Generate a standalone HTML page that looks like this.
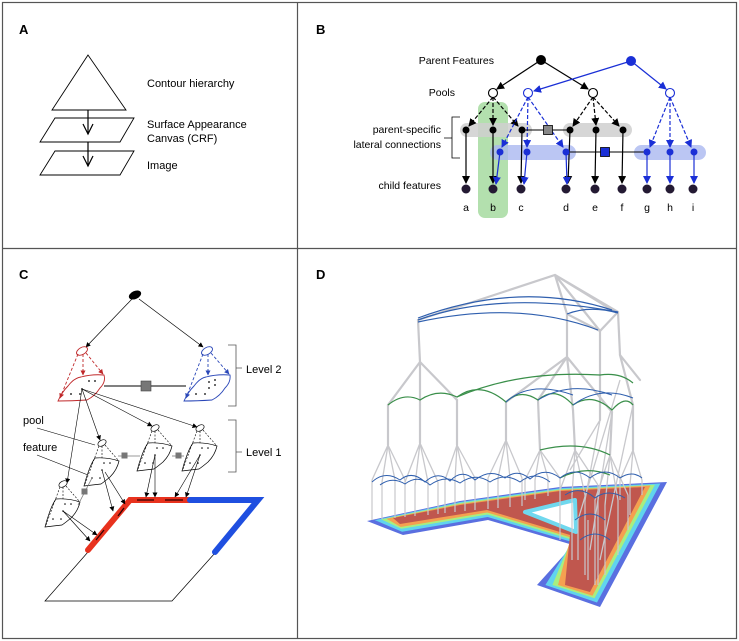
<!DOCTYPE html>
<html><head><meta charset="utf-8"><style>
html,body{margin:0;padding:0;background:#fff}
svg{display:block;font-family:"Liberation Sans",Arial,sans-serif}
</style></head><body>
<svg width="739" height="641" viewBox="0 0 739 641" xmlns="http://www.w3.org/2000/svg">
<defs>
<marker id="ak" markerWidth="8" markerHeight="8" refX="7" refY="4" orient="auto" markerUnits="userSpaceOnUse"><path d="M0,0 L8,4 L0,8 Z" fill="#000"/></marker>
<marker id="ab" markerWidth="8" markerHeight="8" refX="7" refY="4" orient="auto" markerUnits="userSpaceOnUse"><path d="M0,0 L8,4 L0,8 Z" fill="#1a2fd6"/></marker>
<marker id="as" markerWidth="5" markerHeight="5" refX="4.5" refY="2.5" orient="auto" markerUnits="userSpaceOnUse"><path d="M0,0 L5,2.5 L0,5 Z" fill="#000"/></marker>
<marker id="ar" markerWidth="5" markerHeight="5" refX="4.5" refY="2.5" orient="auto" markerUnits="userSpaceOnUse"><path d="M0,0 L5,2.5 L0,5 Z" fill="#c0282a"/></marker>
<marker id="abl" markerWidth="5" markerHeight="5" refX="4.5" refY="2.5" orient="auto" markerUnits="userSpaceOnUse"><path d="M0,0 L5,2.5 L0,5 Z" fill="#2a47b8"/></marker>
</defs>
<rect x="2.5" y="2.5" width="734" height="636" fill="none" stroke="#555" stroke-width="1.2"/>
<line x1="297.5" y1="2" x2="297.5" y2="639" stroke="#555" stroke-width="1.2"/>
<line x1="2" y1="248.5" x2="737" y2="248.5" stroke="#555" stroke-width="1.2"/>

<!-- Panel A -->
<g font-size="11">
<text x="19" y="34" font-weight="bold" font-size="13">A</text>
<path d="M88,55 L52,110 L126,110 Z" fill="#fff" stroke="#000" stroke-width="0.9"/>
<path d="M55,118 L134,118 L120,142 L40,142 Z" fill="#fff" stroke="#000" stroke-width="0.9"/>
<path d="M55,151 L134,151 L120,175 L40,175 Z" fill="#fff" stroke="#000" stroke-width="0.9"/>
<line x1="88" y1="110" x2="88" y2="134" stroke="#000" stroke-width="1.2"/>
<path d="M83,124 L88,134 L93,124" fill="none" stroke="#000" stroke-width="1.2"/>
<line x1="88" y1="142" x2="88" y2="166" stroke="#000" stroke-width="1.2"/>
<path d="M83,156 L88,166 L93,156" fill="none" stroke="#000" stroke-width="1.2"/>
<text x="147" y="87">Contour hierarchy</text>
<text x="147" y="128">Surface Appearance</text>
<text x="147" y="142">Canvas (CRF)</text>
<text x="147" y="169">Image</text>
</g>

<!-- Panel B -->
<g font-size="10.5">
<text x="316" y="34" font-weight="bold" font-size="13">B</text>
<rect x="478" y="102" width="30" height="116" rx="7" fill="#a6dba0" opacity="0.85"/>
<rect x="460" y="123" width="72" height="14" rx="7" fill="#cfcfcf" opacity="0.85"/>
<rect x="563" y="123" width="69" height="14" rx="7" fill="#cfcfcf" opacity="0.85"/>
<rect x="490" y="145" width="86" height="15" rx="7.5" fill="#aab8f0" opacity="0.8"/>
<rect x="634" y="145" width="72" height="15" rx="7.5" fill="#aab8f0" opacity="0.8"/>
<text x="494" y="64" text-anchor="end">Parent Features</text>
<text x="455" y="96" text-anchor="end">Pools</text>
<text x="441" y="133" text-anchor="end">parent-specific</text>
<text x="441" y="148" text-anchor="end">lateral connections</text>
<text x="441" y="189" text-anchor="end">child features</text>
<path d="M460,117 L452,117 L452,158 L460,158 M452,138 L444,138" fill="none" stroke="#000" stroke-width="0.8"/>
<line x1="541" y1="60" x2="497" y2="89" stroke="#000" stroke-width="1.2" marker-end="url(#ak)"/>
<line x1="541" y1="60" x2="588" y2="89" stroke="#000" stroke-width="1.2" marker-end="url(#ak)"/>
<line x1="631" y1="61" x2="534" y2="91" stroke="#1a2fd6" stroke-width="1.2" marker-end="url(#ab)"/>
<line x1="631" y1="61" x2="666" y2="89" stroke="#1a2fd6" stroke-width="1.2" marker-end="url(#ab)"/>
<g stroke="#000" stroke-width="1.2" stroke-dasharray="4,2" fill="none">
<line x1="493" y1="97" x2="469" y2="126" marker-end="url(#ak)"/>
<line x1="493" y1="97" x2="493" y2="125" marker-end="url(#ak)"/>
<line x1="493" y1="97" x2="518" y2="126" marker-end="url(#ak)"/>
<line x1="593" y1="97" x2="573" y2="126" marker-end="url(#ak)"/>
<line x1="593" y1="97" x2="596" y2="125" marker-end="url(#ak)"/>
<line x1="593" y1="97" x2="619" y2="126" marker-end="url(#ak)"/>
</g>
<g stroke="#1a2fd6" stroke-width="1.2" stroke-dasharray="4,2" fill="none">
<line x1="528" y1="97" x2="502" y2="147" marker-end="url(#ab)"/>
<line x1="528" y1="97" x2="527" y2="147" marker-end="url(#ab)"/>
<line x1="528" y1="97" x2="563" y2="147" marker-end="url(#ab)"/>
<line x1="670" y1="97" x2="650" y2="147" marker-end="url(#ab)"/>
<line x1="670" y1="97" x2="670" y2="147" marker-end="url(#ab)"/>
<line x1="670" y1="97" x2="691" y2="147" marker-end="url(#ab)"/>
</g>
<line x1="522" y1="130" x2="570" y2="130" stroke="#000" stroke-width="1"/>
<line x1="566" y1="152" x2="647" y2="152" stroke="#000" stroke-width="1"/>
<rect x="543.5" y="125.5" width="9" height="9" fill="#888" stroke="#000" stroke-width="0.8"/>
<rect x="600.5" y="147.5" width="9" height="9" fill="#1a2fd6" stroke="#000" stroke-width="0.8"/>
<g stroke="#000" stroke-width="1.2">
<line x1="466" y1="130" x2="466" y2="183" marker-end="url(#ak)"/>
<line x1="493" y1="130" x2="493" y2="183" marker-end="url(#ak)"/>
<line x1="522" y1="130" x2="521" y2="183" marker-end="url(#ak)"/>
<line x1="570" y1="130" x2="568" y2="183" marker-end="url(#ak)"/>
<line x1="596" y1="130" x2="595" y2="183" marker-end="url(#ak)"/>
<line x1="623" y1="130" x2="622" y2="183" marker-end="url(#ak)"/>
</g>
<g stroke="#1a2fd6" stroke-width="1.2">
<line x1="500" y1="152" x2="496" y2="184" marker-end="url(#ab)"/>
<line x1="527" y1="152" x2="524" y2="184" marker-end="url(#ab)"/>
<line x1="566" y1="152" x2="567" y2="184" marker-end="url(#ab)"/>
<line x1="647" y1="152" x2="647" y2="183" marker-end="url(#ab)"/>
<line x1="670" y1="152" x2="670" y2="183" marker-end="url(#ab)"/>
<line x1="694" y1="152" x2="694" y2="183" marker-end="url(#ab)"/>
</g>
<circle cx="541" cy="60" r="5" fill="#000"/>
<circle cx="631" cy="61" r="5" fill="#1a2fd6"/>
<g fill="#fff" stroke-width="1.1">
<circle cx="493" cy="93" r="4.5" stroke="#000"/>
<circle cx="593" cy="93" r="4.5" stroke="#000"/>
<circle cx="528" cy="93" r="4.5" stroke="#1a2fd6"/>
<circle cx="670" cy="93" r="4.5" stroke="#1a2fd6"/>
</g>
<g fill="#000">
<circle cx="466" cy="130" r="3.5"/><circle cx="493" cy="130" r="3.5"/><circle cx="522" cy="130" r="3.5"/>
<circle cx="570" cy="130" r="3.5"/><circle cx="596" cy="130" r="3.5"/><circle cx="623" cy="130" r="3.5"/>
</g>
<g fill="#1a2fd6">
<circle cx="500" cy="152" r="3.5"/><circle cx="527" cy="152" r="3.5"/><circle cx="566" cy="152" r="3.5"/>
<circle cx="647" cy="152" r="3.5"/><circle cx="670" cy="152" r="3.5"/><circle cx="694" cy="152" r="3.5"/>
</g>
<g fill="#241a33">
<circle cx="466" cy="189" r="4.5"/><circle cx="493" cy="189" r="4.5"/><circle cx="521" cy="189" r="4.5"/>
<circle cx="566" cy="189" r="4.5"/><circle cx="595" cy="189" r="4.5"/><circle cx="622" cy="189" r="4.5"/>
<circle cx="647" cy="189" r="4.5"/><circle cx="670" cy="189" r="4.5"/><circle cx="693" cy="189" r="4.5"/>
</g>
<g text-anchor="middle">
<text x="466" y="211">a</text><text x="493" y="211">b</text><text x="521" y="211">c</text>
<text x="566" y="211">d</text><text x="595" y="211">e</text><text x="622" y="211">f</text>
<text x="647" y="211">g</text><text x="670" y="211">h</text><text x="693" y="211">i</text>
</g>
</g>

<!-- Panel C -->
<g font-size="11">
<text x="19" y="279" font-weight="bold" font-size="13">C</text>
<ellipse cx="135" cy="295" rx="6.5" ry="4" transform="rotate(-25 135 295)" fill="#000"/>
<line x1="132" y1="299" x2="86" y2="347" stroke="#000" stroke-width="0.7" marker-end="url(#as)"/>
<line x1="139" y1="299" x2="203" y2="347" stroke="#000" stroke-width="0.7" marker-end="url(#as)"/>
<path d="M228,345 L236,345 L236,406 L228,406 M236,368 L242,368" fill="none" stroke="#555" stroke-width="0.8"/>
<text x="246" y="373">Level 2</text>
<path d="M228,420 L236,420 L236,472 L228,472 M236,452 L242,452" fill="none" stroke="#555" stroke-width="0.8"/>
<text x="246" y="456">Level 1</text>
<text x="23" y="424">pool</text>
<text x="23" y="451">feature</text>
<line x1="37" y1="428" x2="95" y2="445" stroke="#000" stroke-width="0.6"/>
<line x1="37" y1="455" x2="88" y2="475" stroke="#000" stroke-width="0.6"/>
<g stroke="#c0282a" fill="none" stroke-width="0.9">
<ellipse cx="82" cy="351" rx="6" ry="3.5" transform="rotate(-30 82 351)" fill="#fff"/>
<path d="M81,377 Q92,374 104,375 Q106,382 100,388 Q95,396 87,400 Q72,401 58,401 Q62,392 68,386 Q74,378 81,377 Z" fill="#fff"/>
<g stroke-dasharray="3,2">
<line x1="78" y1="354" x2="60" y2="398" marker-end="url(#ar)"/>
<line x1="83" y1="354" x2="83" y2="375" marker-end="url(#ar)"/>
<line x1="86" y1="353" x2="103" y2="374" marker-end="url(#ar)"/>
</g>
</g>
<g fill="#000"><circle cx="89" cy="381" r="0.9"/><circle cx="95" cy="381" r="0.9"/><circle cx="82" cy="389" r="0.9"/><circle cx="71" cy="394" r="0.9"/><circle cx="80" cy="394" r="0.9"/></g>
<g stroke="#2a47b8" fill="none" stroke-width="0.9">
<ellipse cx="207" cy="351" rx="6" ry="3.5" transform="rotate(-30 207 351)" fill="#fff"/>
<path d="M206,377 Q217,374 230,375 Q231,382 225,388 Q220,396 212,400 Q197,401 184,401 Q188,392 194,386 Q200,378 206,377 Z" fill="#fff"/>
<g stroke-dasharray="3,2">
<line x1="203" y1="354" x2="186" y2="398" marker-end="url(#abl)"/>
<line x1="208" y1="354" x2="208" y2="375" marker-end="url(#abl)"/>
<line x1="211" y1="353" x2="229" y2="374" marker-end="url(#abl)"/>
</g>
</g>
<g fill="#000"><circle cx="209" cy="382" r="0.9"/><circle cx="209" cy="388" r="0.9"/><circle cx="215" cy="385" r="0.9"/><circle cx="196" cy="394" r="0.9"/><circle cx="205" cy="394" r="0.9"/><circle cx="215" cy="380" r="0.9"/></g>
<line x1="104" y1="386" x2="186" y2="386" stroke="#000" stroke-width="1"/>
<rect x="141" y="381" width="10" height="10" fill="#777" stroke="#444" stroke-width="0.6"/>
<g stroke="#000" stroke-width="0.6" fill="none">
<line x1="82" y1="389" x2="67" y2="483" marker-end="url(#as)"/>
<line x1="82" y1="389" x2="100" y2="440" marker-end="url(#as)"/>
<line x1="82" y1="389" x2="152" y2="426" marker-end="url(#as)"/>
<line x1="82" y1="389" x2="197" y2="427" marker-end="url(#as)"/>
</g>
<g stroke="#000" stroke-width="0.7" fill="#fff">
<ellipse cx="102" cy="443" rx="4.5" ry="2.8" transform="rotate(-30 102 443)"/>
<path d="M95,458 Q107,457 119,461 Q117,470 110,477 Q104,482 101,484 Q92,485 84,486 Q86,478 89,470 Q92,462 95,458 Z"/>
<ellipse cx="155" cy="428" rx="4.5" ry="2.8" transform="rotate(-30 155 428)"/>
<path d="M148,443 Q160,442 172,446 Q170,455 163,462 Q157,467 154,469 Q145,470 137,471 Q139,463 142,455 Q145,447 148,443 Z"/>
<ellipse cx="200" cy="428" rx="4.5" ry="2.8" transform="rotate(-30 200 428)"/>
<path d="M193,443 Q205,442 217,446 Q215,455 208,462 Q202,467 199,469 Q190,470 182,471 Q184,463 187,455 Q190,447 193,443 Z"/>
<ellipse cx="63" cy="484" rx="4.5" ry="2.8" transform="rotate(-30 63 484)"/>
<path d="M56,499 Q68,498 80,502 Q78,511 71,518 Q65,523 62,525 Q53,526 45,527 Q47,519 50,511 Q53,503 56,499 Z"/>
</g>
<g stroke="#000" stroke-width="0.6" stroke-dasharray="2,1.5" fill="none">
<line x1="99" y1="446" x2="85" y2="484"/><line x1="102" y1="446" x2="102" y2="458"/><line x1="105" y1="445" x2="118" y2="460"/>
<line x1="152" y1="431" x2="138" y2="469"/><line x1="155" y1="431" x2="155" y2="443"/><line x1="158" y1="430" x2="171" y2="445"/>
<line x1="197" y1="431" x2="183" y2="469"/><line x1="200" y1="431" x2="200" y2="443"/><line x1="203" y1="430" x2="216" y2="445"/>
<line x1="60" y1="487" x2="46" y2="525"/><line x1="63" y1="487" x2="63" y2="499"/><line x1="66" y1="486" x2="79" y2="501"/>
</g>
<g fill="#000">
<circle cx="104" cy="463" r="0.8"/><circle cx="110" cy="463" r="0.8"/><circle cx="102" cy="470" r="0.8"/><circle cx="92" cy="478" r="0.8"/><circle cx="100" cy="478" r="0.8"/>
<circle cx="157" cy="448" r="0.8"/><circle cx="163" cy="448" r="0.8"/><circle cx="155" cy="455" r="0.8"/><circle cx="145" cy="463" r="0.8"/><circle cx="153" cy="463" r="0.8"/>
<circle cx="202" cy="448" r="0.8"/><circle cx="208" cy="448" r="0.8"/><circle cx="200" cy="455" r="0.8"/><circle cx="190" cy="463" r="0.8"/><circle cx="198" cy="463" r="0.8"/>
<circle cx="65" cy="504" r="0.8"/><circle cx="71" cy="504" r="0.8"/><circle cx="63" cy="511" r="0.8"/><circle cx="53" cy="519" r="0.8"/><circle cx="61" cy="519" r="0.8"/>
</g>
<line x1="118" y1="456" x2="140" y2="456" stroke="#777" stroke-width="0.8"/>
<line x1="172" y1="456" x2="184" y2="456" stroke="#777" stroke-width="0.8"/>
<line x1="78" y1="505" x2="92" y2="478" stroke="#777" stroke-width="0.8"/>
<rect x="121.5" y="452.5" width="6" height="6" fill="#777"/>
<rect x="175.5" y="452.5" width="6" height="6" fill="#777"/>
<rect x="81.5" y="488.5" width="6" height="6" fill="#777"/>
<path d="M88,552 L45,601 L172,601 L215,553" fill="none" stroke="#000" stroke-width="0.7"/>
<path d="M88,550 L130,500 L190,500" fill="none" stroke="#e8321e" stroke-width="6" stroke-linecap="round"/>
<path d="M190,500 L258,500 L215,552" fill="none" stroke="#1f4fe0" stroke-width="6" stroke-linecap="round"/>
<g stroke="#300" stroke-width="1.3"><line x1="118" y1="516" x2="124" y2="508"/><line x1="96" y1="540" x2="104" y2="530"/><line x1="137" y1="500" x2="154" y2="500"/><line x1="165" y1="500" x2="183" y2="500"/></g>
<g stroke="#000" stroke-width="0.6">
<line x1="102" y1="470" x2="113" y2="511" marker-end="url(#as)"/>
<line x1="105" y1="472" x2="125" y2="504" marker-end="url(#as)"/>
<line x1="155" y1="455" x2="146" y2="497" marker-end="url(#as)"/>
<line x1="155" y1="455" x2="155" y2="497" marker-end="url(#as)"/>
<line x1="200" y1="455" x2="175" y2="497" marker-end="url(#as)"/>
<line x1="200" y1="455" x2="186" y2="497" marker-end="url(#as)"/>
<line x1="63" y1="511" x2="97" y2="535" marker-end="url(#as)"/>
<line x1="63" y1="511" x2="90" y2="541" marker-end="url(#as)"/>
</g>
</g>

<!-- Panel D -->
<g>
<text x="316" y="279" font-weight="bold" font-size="13">D</text>
<g>
<polygon points="367,521 403,535 488,520 573,545 537,585 600,607 667,482 560,487 460,501" fill="#5a6fe0"/>
<polygon points="374.8,520.1 402.1,531.7 487.7,517 572.1,542 545.4,585 597,602.5 660.4,483.5 560,488.2 460,502" fill="#60d4ee"/>
<polygon points="381.3,519.4 401.4,528.8 487.5,514.5 571.4,539.5 552.4,585 594.5,598.2 654.9,484.8 560,489.2 460,503" fill="#a8ee80"/>
<polygon points="386.5,518.8 400.8,527 487.3,512.5 570.8,537.5 558,585 592.5,595.8 650.5,485.5 560,490 460,504" fill="#f5a050"/>
<polygon points="393,518 400,524 487,510 570,535 565,585 590,592 645,487 560,491 460,505" fill="#c0574e"/>
<polygon points="525,512 575,500 576,532" fill="#fff" stroke="#70d8ee" stroke-width="4" stroke-linejoin="round"/>
</g>
<g stroke="#c8c8cc" stroke-width="2.2" fill="none" stroke-linecap="round">
<path d="M418,320 L555,275 L618,312 M555,275 L567,314 L600,331 L618,312 M555,275 L600,331 M555,275 L612,310"/>
<path d="M418,320 L420,362 M567,314 L567,357 M600,331 L600,420 M618,312 L620,355"/>
<path d="M420,362 L388,405 M420,362 L420,405 M420,362 L457,400 M567,357 L506,402 M567,357 L538,400 M567,357 L573,410 M567,357 L612,412 M620,355 L633,405 M620,355 L640,380"/>
<path d="M388,405 L388,445 M420,405 L420,443 M457,400 L457,445 M506,402 L506,440 M538,400 L540,450 M573,410 L575,450 M612,412 L610,455 M633,405 L633,450"/>
</g>
<g stroke="#c8c8cc" stroke-width="1.3" fill="none">
<path d="M388,445 L372,480 M388,445 L382,482 M388,445 L395,480 M388,445 L405,480"/>
<path d="M420,443 L405,482 M420,443 L415,485 M420,443 L428,482 M420,443 L438,482"/>
<path d="M457,445 L445,480 M457,445 L455,480 M457,445 L465,482 M457,445 L475,478"/>
<path d="M506,440 L488,478 M506,440 L498,478 M506,440 L510,478 M506,440 L522,478"/>
<path d="M540,450 L525,480 M540,450 L535,480 M540,450 L548,478 M540,450 L560,478"/>
<path d="M575,450 L560,490 M575,450 L572,495 M575,450 L585,495 M575,450 L598,485"/>
<path d="M610,455 L595,500 M610,455 L605,505 M610,455 L618,500 M610,455 L628,495"/>
<path d="M633,450 L620,480 M633,450 L630,485 M633,450 L642,480"/>
<path d="M600,420 L570,470 M600,420 L585,500 M612,412 L590,550 M633,405 L600,560 M620,380 L578,520"/>
</g>
<g stroke="#c8c8cc" stroke-width="1.2">
<path d="M372,480V520 M382,482V519 M395,480V518 M405,480V517 M415,485V516 M428,482V515 M438,482V514 M445,480V513 M455,480V512 M465,482V511 M475,478V510 M488,478V509 M498,478V508 M510,478V507 M522,478V506 M525,480V500 M535,480V499 M548,478V496 M560,478V494 M560,490V540 M572,495V560 M585,495V575 M598,485V585 M595,500V585 M605,505V575 M618,500V555 M628,495V530 M620,480V500 M630,485V515 M642,480V495 M588,520V580 M578,520V560"/>
</g>
<g fill="none" stroke="#2f5fae" stroke-width="1.2">
<path d="M418,320 Q500,290 618,312"/>
<path d="M418,322 Q520,300 598,330"/>
<path d="M418,318 Q520,280 612,310"/>
<path d="M567,314 Q590,305 618,313"/>
</g>
<g fill="none" stroke="#3a8f4a" stroke-width="1.2">
<path d="M388,405 Q404,392 420,400 Q438,388 457,397 Q480,380 506,402 Q520,388 538,400 Q555,385 573,405 Q592,392 612,410 Q625,395 633,405"/>
<path d="M457,397 Q520,370 600,375 Q620,372 633,383"/>
<path d="M540,450 Q580,440 610,455"/>
<path d="M560,478 Q585,465 610,475"/>
</g>
<g fill="none" stroke="#2f5fae" stroke-width="1">
<path d="M506,402 Q530,380 573,395 M538,400 Q570,380 612,395 M573,405 Q600,385 633,398"/>
<path d="M372,482 Q385,470 400,480 Q412,470 425,482 Q438,470 450,481 Q462,468 475,480 Q490,468 505,478 Q518,468 530,479 Q545,466 560,478 Q575,466 590,478 Q605,466 620,478 Q632,470 642,478"/>
<path d="M380,485 Q392,476 405,484 Q418,474 430,485 Q445,474 460,483 Q475,472 490,482 Q505,472 520,482 Q535,470 550,482"/>
<path d="M565,495 Q580,485 595,498 Q608,488 625,498 M575,520 Q590,508 605,520 M580,540 Q595,528 610,540"/>
</g>
</g>
</svg>
</body></html>
